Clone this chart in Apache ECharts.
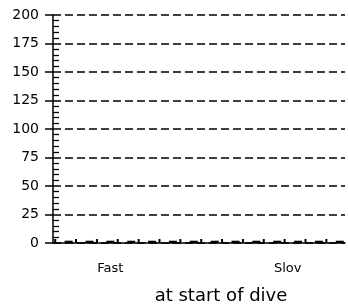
<!DOCTYPE html>
<html>
<head>
<meta charset="UTF-8">
<script src="https://cdn.jsdelivr.net/npm/echarts@6/dist/echarts.min.js"></script>
<style>
  body { margin: 0; background: #fff; }
  #chart { width: 348px; height: 306px; }
</style>
</head>
<body>
<div id="chart"></div>
<script>
// x categories (only two carry a visible label)
const categories = ['', '', '', '', '', 'Fast', '', '', '', '', '', '', '', '',
                    '', '', '', '', '', '', '', '', 'Slov', '', '', '', '', ''];
// thin tall marks and short wide marks, alternating along the axis
const thinValues = [3.5, '-', 3.5, '-', 3.5, '-', 3.5, '-', 3.5, '-', 3.5, '-', 3.5, '-',
                    3.5, '-', 3.5, '-', 3.5, '-', 3.5, '-', 3.5, '-', 3.5, '-', 3.5, '-'];
const wideValues = ['-', 2, '-', 2, '-', 2, '-', 2, '-', 2, '-', 2, '-', 2,
                    '-', 2, '-', 2, '-', 2, '-', 2, '-', 2, '-', 2, '-', 2];
const xTitle = 'at start of dive';

const chart = echarts.init(document.getElementById('chart'));
chart.setOption({
    animation: false,
    textStyle: { fontFamily: 'DejaVu Sans, sans-serif' },
    grid: { left: 53, right: 3, top: 15, bottom: 63, outerBoundsMode: 'none', containLabel: false },
    xAxis: {
        type: 'category',
        data: categories,
        name: xTitle,
        nameLocation: 'middle',
        nameGap: 44,
        nameTextStyle: { fontSize: 18, color: '#000', padding: [0, 0, 0, 44] },
        axisLine: { lineStyle: { color: '#000', width: 1.5 } },
        axisTick: { show: false },
        axisLabel: { interval: 0, color: '#000', fontSize: 13, margin: 19 }
    },
    yAxis: {
        type: 'value',
        min: 0,
        max: 200,
        interval: 25,
        axisLine: { show: true, lineStyle: { color: '#000', width: 1.5 } },
        axisTick: { show: true, length: 8, lineStyle: { color: '#000', width: 1.5 } },
        minorTick: { show: true, splitNumber: 5, length: -6, lineStyle: { color: '#000', width: 1.3 } },
        axisLabel: { color: '#000', fontSize: 14, margin: 14 },
        splitLine: { lineStyle: { color: '#000', width: 1.5, type: [8, 4] } }
    },
    series: [
        {
            type: 'bar',
            data: thinValues,
            barWidth: 2,
            barGap: '-100%',
            itemStyle: { color: '#000' }
        },
        {
            type: 'bar',
            data: wideValues,
            barWidth: 8,
            itemStyle: { color: '#000' }
        }
    ]
});
</script>
</body>
</html>
